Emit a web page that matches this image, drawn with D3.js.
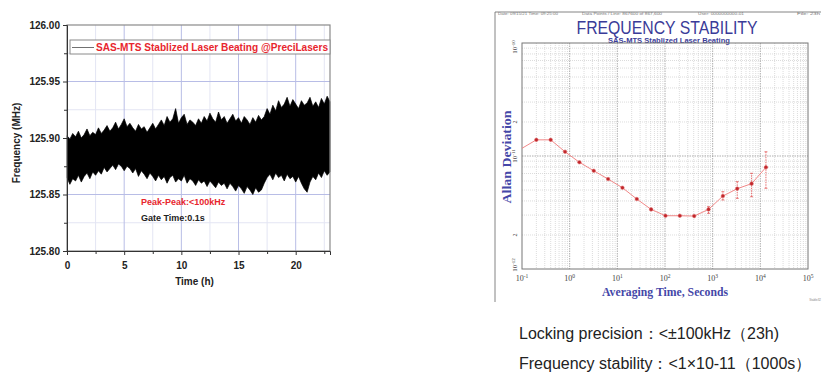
<!DOCTYPE html>
<html><head><meta charset="utf-8">
<script src="https://cdn.jsdelivr.net/npm/d3@7"></script>
<style>
body{margin:0;background:#fff;}
svg{display:block;}
text{font-family:"Liberation Sans",Arial,sans-serif;}
.serif{font-family:"Liberation Serif","Times New Roman",serif;}
</style></head><body>
<svg id="c" width="832" height="384"></svg>
<script>
// ---------- Left chart data ----------
const timeStep = 0.25; // hours between envelope samples
const freqUpper = [125.902,125.899,125.904,125.901,125.906,125.900,125.903,125.908,125.902,125.905,125.903,125.909,125.904,125.907,125.911,125.906,125.909,
125.914,125.908,125.912,125.917,125.910,125.913,125.909,125.906,125.912,125.908,125.910,125.905,125.909,125.913,125.908,125.912,
125.916,125.911,125.919,125.914,125.917,125.926,125.913,125.918,125.921,125.912,125.916,125.914,125.911,125.917,125.913,125.919,
125.915,125.922,125.917,125.914,125.923,125.916,125.919,125.913,125.917,125.921,125.915,125.918,125.913,125.919,125.916,125.912,
125.918,125.914,125.920,125.916,125.919,125.926,125.921,125.929,125.924,125.933,125.927,125.930,125.936,125.928,125.934,125.930,
125.926,125.933,125.929,125.931,125.936,125.928,125.932,125.927,125.935,125.930,125.937,125.932];
const freqLower = [125.865,125.859,125.864,125.862,125.867,125.861,125.866,125.869,125.864,125.870,125.867,125.871,125.868,125.874,125.870,125.873,125.876,
125.872,125.877,125.875,125.871,125.875,125.873,125.869,125.873,125.866,125.871,125.868,125.864,125.869,125.866,125.862,125.867,
125.863,125.866,125.860,125.865,125.867,125.861,125.864,125.862,125.867,125.860,125.864,125.862,125.858,125.863,125.860,125.862,
125.857,125.862,125.859,125.856,125.861,125.858,125.860,125.855,125.860,125.857,125.853,125.858,125.855,125.851,125.857,125.854,
125.850,125.856,125.852,125.854,125.860,125.865,125.868,125.863,125.869,125.865,125.867,125.862,125.868,125.864,125.866,125.861,
125.866,125.860,125.855,125.852,125.861,125.866,125.863,125.869,125.865,125.871,125.867,125.870];
const timeTicks = [0,5,10,15,20];
const timeMinor = [2.5,7.5,12.5,17.5,22.5];
const freqTicks = [125.80,125.85,125.90,125.95,126.00];
const freqMinor = [125.825,125.875,125.925,125.975];

// ---------- Right chart data ----------
const tau = [0.1,0.2,0.4,0.8,1.6,3.2,6.4,12.8,25.6,51.2,102.4,204.8,409.6,819.2,1638.4,3276.8,6553.6,13107.2];
const adev = [1.17e-11,1.39e-11,1.39e-11,1.09e-11,8.8e-12,7.4e-12,6.25e-12,5.24e-12,4.16e-12,3.37e-12,2.96e-12,2.96e-12,2.94e-12,3.37e-12,4.42e-12,5.14e-12,5.69e-12,7.94e-12];
const adevLo = [null,null,null,null,null,null,null,null,null,null,null,null,null,3.11e-12,4.08e-12,4.22e-12,4.36e-12,5.18e-12];
const adevHi = [null,null,null,null,null,null,null,null,null,null,null,null,null,3.56e-12,4.83e-12,5.93e-12,7.03e-12,1.09e-11];
const tauDecades = [-1,0,1,2,3,4,5];
const adevDecades = [-12,-11,-10];

const svg = d3.select("#c");

// ================= LEFT CHART =================
const L = {x0:67,x1:330,y0:25,y1:251};
const x = d3.scaleLinear().domain([0,23]).range([L.x0,L.x1]);
const y = d3.scaleLinear().domain([125.80,126.00]).range([L.y1,L.y0]);
const gL = svg.append("g");

// grid
gL.selectAll(".vmin").data(timeMinor.filter(d=>d<23)).join("line")
  .attr("x1",d=>x(d)).attr("x2",d=>x(d)).attr("y1",L.y0).attr("y2",L.y1)
  .attr("stroke","#e3e5f3").attr("stroke-width",1);
gL.selectAll(".hmin").data(freqMinor).join("line")
  .attr("x1",L.x0).attr("x2",L.x1).attr("y1",d=>y(d)).attr("y2",d=>y(d))
  .attr("stroke","#e3e5f3").attr("stroke-width",1);
gL.selectAll(".vmaj").data(timeTicks.slice(1)).join("line")
  .attr("x1",d=>x(d)).attr("x2",d=>x(d)).attr("y1",L.y0).attr("y2",L.y1)
  .attr("stroke","#b8bde6").attr("stroke-width",1);
gL.selectAll(".hmaj").data(freqTicks.slice(1,4)).join("line")
  .attr("x1",L.x0).attr("x2",L.x1).attr("y1",d=>y(d)).attr("y2",d=>y(d))
  .attr("stroke","#b8bde6").attr("stroke-width",1);

// data band
const band = freqUpper.map((u,i)=>({t:i*timeStep,u:u,l:freqLower[i]}));
gL.append("path").datum(band)
  .attr("d",d3.area().x(d=>x(d.t)).y0(d=>y(d.l)).y1(d=>y(d.u)))
  .attr("fill","#000").attr("stroke","#000").attr("stroke-width",0.7).attr("stroke-linejoin","miter");

// frame
gL.append("rect").attr("x",L.x0).attr("y",L.y0).attr("width",L.x1-L.x0).attr("height",L.y1-L.y0)
  .attr("fill","none").attr("stroke","#8a8a8a").attr("stroke-width",1.2);

// axes
const xAx = d3.axisBottom(x).tickValues(timeTicks).tickSize(4).tickFormat(d3.format("d"));
const gx = gL.append("g").attr("transform",`translate(0,${L.y1})`).call(xAx);
gx.select(".domain").attr("stroke","#333");
gx.selectAll("line").attr("stroke","#333");
gx.selectAll("text").attr("font-size",10).attr("font-weight","bold").attr("fill","#222").attr("dy","1.1em");
gL.append("g").attr("transform",`translate(0,${L.y1})`)
  .call(d3.axisBottom(x).tickValues(timeMinor).tickSize(3).tickFormat(""))
  .call(g=>{g.select(".domain").remove();g.selectAll("line").attr("stroke","#333");});
const yAx = d3.axisLeft(y).tickValues(freqTicks).tickSize(4).tickFormat(d3.format(".2f"));
const gy = gL.append("g").attr("transform",`translate(${L.x0},0)`).call(yAx);
gy.select(".domain").attr("stroke","#333");
gy.selectAll("line").attr("stroke","#333");
gy.selectAll("text").attr("font-size",10).attr("font-weight","bold").attr("fill","#222");
gL.append("g").attr("transform",`translate(${L.x0},0)`)
  .call(d3.axisLeft(y).tickValues(freqMinor).tickSize(3).tickFormat(""))
  .call(g=>{g.select(".domain").remove();g.selectAll("line").attr("stroke","#333");});

// labels
gL.append("text").attr("x",(L.x0+L.x1)/2-4).attr("y",285).attr("text-anchor","middle")
  .attr("font-size",10).attr("font-weight","bold").attr("fill","#222").text("Time (h)");
gL.append("text").attr("transform","translate(20,143) rotate(-90)").attr("text-anchor","middle")
  .attr("font-size",10).attr("font-weight","bold").attr("fill","#222").text("Frequency (MHz)");

// legend
gL.append("rect").attr("x",70).attr("y",40).attr("width",260).attr("height",14)
  .attr("fill","#fff").attr("stroke","#8a8a8a").attr("stroke-width",1);
gL.append("line").attr("x1",72).attr("x2",94).attr("y1",47.5).attr("y2",47.5).attr("stroke","#333").attr("stroke-width",0.7);
gL.append("text").attr("x",96).attr("y",51).attr("font-size",10).attr("font-weight","bold")
  .attr("fill","#e8262e").attr("textLength",232).attr("lengthAdjust","spacingAndGlyphs")
  .text("SAS-MTS Stablized Laser Beating @PreciLasers");

gL.append("text").attr("x",141).attr("y",205).attr("font-size",9).attr("font-weight","bold")
  .attr("fill","#e8262e").text("Peak-Peak:<100kHz");
gL.append("text").attr("x",141).attr("y",221).attr("font-size",9).attr("font-weight","bold")
  .attr("fill","#222").text("Gate Time:0.1s");

// ================= RIGHT CHART =================
const R = {x0:522,x1:808,y0:43,y1:269};
const xr = d3.scaleLog().domain([0.1,1e5]).range([R.x0,R.x1]);
const yr = d3.scaleLog().domain([1e-12,1e-10]).range([R.y1,R.y0]);
const gR = svg.append("g");

// outer frame lines
gR.append("line").attr("x1",495).attr("x2",821).attr("y1",12).attr("y2",12).attr("stroke","#666").attr("stroke-width",0.8);
gR.append("line").attr("x1",495).attr("x2",495).attr("y1",12).attr("y2",302).attr("stroke","#666").attr("stroke-width",0.8);

// header tiny texts
const hdr = [[498,60,"Date: 09/15/21  Time: 09:25:00"],[582,80,"Data Points / Line: 867600 of 867,600"],[698,46,"User: 0000000000-01"],[797,23,"File: 23h"]];
gR.selectAll(".hdr").data(hdr).join("text").attr("x",d=>d[0]).attr("y",15.3)
  .attr("font-size",3.5).attr("fill","#777").attr("textLength",d=>d[1]).attr("lengthAdjust","spacingAndGlyphs").text(d=>d[2]);

// title
gR.append("text").attr("x",667).attr("y",33.5).attr("text-anchor","middle")
  .attr("font-size",18).attr("fill","#3a3b98").attr("textLength",181).attr("lengthAdjust","spacingAndGlyphs")
  .text("FREQUENCY STABILITY");
gR.append("text").attr("x",669).attr("y",43).attr("text-anchor","middle")
  .attr("font-size",8).attr("font-weight","bold").attr("fill","#3a3b98")
  .attr("textLength",122).attr("lengthAdjust","spacingAndGlyphs")
  .text("SAS-MTS Stablized Laser Beating");

// grid: minor
const xMinor = [], yMinor = [];
tauDecades.slice(0,-1).forEach(e=>{for(let k=2;k<=9;k++) xMinor.push(k*Math.pow(10,e));});
adevDecades.slice(0,-1).forEach(e=>{for(let k=2;k<=9;k++) yMinor.push(k*Math.pow(10,e));});
gR.selectAll(".xm").data(xMinor).join("line")
  .attr("x1",d=>xr(d)).attr("x2",d=>xr(d)).attr("y1",R.y0).attr("y2",R.y1)
  .attr("stroke","#c4c4c4").attr("stroke-width",0.6).attr("stroke-dasharray","1,1");
gR.selectAll(".ym").data(yMinor).join("line")
  .attr("x1",R.x0).attr("x2",R.x1).attr("y1",d=>yr(d)).attr("y2",d=>yr(d))
  .attr("stroke","#c4c4c4").attr("stroke-width",0.6).attr("stroke-dasharray","1,1");
gR.selectAll(".xM").data(tauDecades.slice(1,-1)).join("line")
  .attr("x1",d=>xr(Math.pow(10,d))).attr("x2",d=>xr(Math.pow(10,d))).attr("y1",R.y0).attr("y2",R.y1)
  .attr("stroke","#999").attr("stroke-width",0.8).attr("stroke-dasharray","1.5,1");
gR.selectAll(".yM").data([-11]).join("line")
  .attr("x1",R.x0).attr("x2",R.x1).attr("y1",d=>yr(Math.pow(10,d))).attr("y2",d=>yr(Math.pow(10,d)))
  .attr("stroke","#999").attr("stroke-width",0.8).attr("stroke-dasharray","1.5,1");

// frame
gR.append("rect").attr("x",R.x0).attr("y",R.y0).attr("width",R.x1-R.x0).attr("height",R.y1-R.y0)
  .attr("fill","none").attr("stroke","#777").attr("stroke-width",1);

// x tick labels
const xl = gR.selectAll(".xl").data(tauDecades).join("text").attr("class","serif")
  .attr("x",d=>xr(Math.pow(10,d))).attr("y",281).attr("text-anchor","middle")
  .attr("font-size",8).attr("fill","#444");
xl.append("tspan").text("10");
xl.append("tspan").attr("dy",-3).attr("font-size",5.5).text(d=>d);

// y tick labels (rotated)
const yl = gR.selectAll(".yl").data(adevDecades).join("text").attr("class","serif")
  .attr("transform",d=>`translate(517,${yr(Math.pow(10,d))+ (d===-10?4:(d===-12?-4:0))}) rotate(-90)`)
  .attr("text-anchor","middle").attr("font-size",7).attr("fill","#444");
yl.append("tspan").text("10");
yl.append("tspan").attr("dy",-2.5).attr("font-size",5).text(d=>d);
gR.selectAll(".yl2").data([2e-11,2e-12]).join("text").attr("class","serif")
  .attr("transform",d=>`translate(517,${yr(d)}) rotate(-90)`)
  .attr("text-anchor","middle").attr("font-size",6).attr("fill","#444").text("2");

// axis titles
gR.append("text").attr("class","serif").attr("transform","translate(511,157) rotate(-90)")
  .attr("text-anchor","middle").attr("font-size",13).attr("font-weight","bold").attr("fill","#4547a8")
  .attr("textLength",93).attr("lengthAdjust","spacingAndGlyphs").text("Allan Deviation");
gR.append("text").attr("class","serif").attr("x",665).attr("y",296)
  .attr("text-anchor","middle").attr("font-size",12.5).attr("font-weight","bold").attr("fill","#4547a8")
  .attr("textLength",126).attr("lengthAdjust","spacingAndGlyphs").text("Averaging Time, Seconds");

// series
const pts = tau.map((t,i)=>({t:t,v:adev[i],lo:adevLo[i],hi:adevHi[i]}));
gR.selectAll(".eb").data(pts.filter(d=>d.lo!==null)).join("line")
  .attr("x1",d=>xr(d.t)).attr("x2",d=>xr(d.t)).attr("y1",d=>yr(d.lo)).attr("y2",d=>yr(d.hi))
  .attr("stroke","#e04848").attr("stroke-width",0.8).attr("stroke-dasharray","1.5,1");
gR.selectAll(".ebc").data(pts.filter(d=>d.lo!==null).flatMap(d=>[{t:d.t,v:d.lo},{t:d.t,v:d.hi}])).join("line")
  .attr("x1",d=>xr(d.t)-1.5).attr("x2",d=>xr(d.t)+1.5).attr("y1",d=>yr(d.v)).attr("y2",d=>yr(d.v))
  .attr("stroke","#e04848").attr("stroke-width",0.7);
gR.append("path").datum(pts).attr("d",d3.line().x(d=>xr(d.t)).y(d=>yr(d.v)))
  .attr("fill","none").attr("stroke","#ef7b7b").attr("stroke-width",0.9);
gR.selectAll(".pt").data(pts.slice(1)).join("circle")
  .attr("cx",d=>xr(d.t)).attr("cy",d=>yr(d.v)).attr("r",1.8)
  .attr("fill","#c0262b").attr("stroke","#e06a6a").attr("stroke-width",0.5);

gR.append("text").attr("x",821).attr("y",301).attr("text-anchor","end").attr("font-size",3).attr("fill","#888").text("Stable32");

// ================= Notes =================
svg.append("text").attr("x",519).attr("y",339).attr("font-size",16).attr("fill","#222")
  .text("Locking precision：<±100kHz（23h)");
svg.append("text").attr("x",519).attr("y",369).attr("font-size",16).attr("fill","#222")
  .text("Frequency stability：<1×10-11（1000s）");
</script>
</body></html>
